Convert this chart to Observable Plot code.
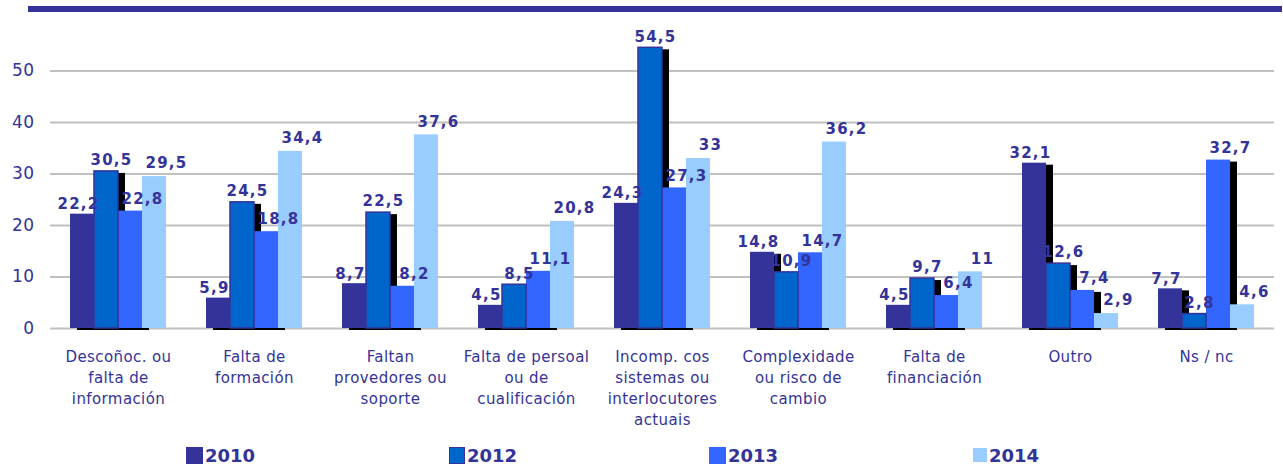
<!DOCTYPE html>
<html><head><meta charset="utf-8">
<script src="https://cdn.jsdelivr.net/npm/d3@7"></script>
<script src="https://cdn.jsdelivr.net/npm/@observablehq/plot@0.6"></script>
<style>
body{margin:0;background:#fff;font-family:"DejaVu Sans",Verdana,sans-serif;}
#wrap{position:relative;width:1283px;height:466px;overflow:hidden;background:#fff}
#topline{position:absolute;left:28px;top:6px;width:1254px;height:6px;background:#333399}
#chart{position:absolute;left:0;top:0}
.leg{position:absolute;display:flex;align-items:center;font-weight:bold;font-size:18px;color:#333399;height:18px;top:446px}
.sw{display:inline-block;box-sizing:border-box;margin-right:2px}
</style></head>
<body><div id="wrap"><div id="chart"></div><div id="topline"></div><div id="legend"></div></div>
<script>
const categories = [
  "Descoñoc. ou\nfalta de\ninformación",
  "Falta de\nformación",
  "Faltan\nprovedores ou\nsoporte",
  "Falta de persoal\nou de\ncualificación",
  "Incomp. cos\nsistemas ou\ninterlocutores\nactuais",
  "Complexidade\nou risco de\ncambio",
  "Falta de\nfinanciación",
  "Outro",
  "Ns / nc"
];
const years = ["2010", "2012", "2013", "2014"];
const v2010 = [22.2, 5.9, 8.7, 4.5, 24.3, 14.8, 4.5, 32.1, 7.7];
const v2012 = [30.5, 24.5, 22.5, 8.5, 54.5, 10.9, 9.7, 12.6, 2.8];
const v2013 = [22.8, 18.8, 8.2, 11.1, 27.3, 14.7, 6.4, 7.4, 32.7];
const v2014 = [29.5, 34.4, 37.6, 20.8, 33, 36.2, 11, 2.9, 4.6];
const yTicks = [0, 10, 20, 30, 40, 50];
const colors = ["#333399", "#0066CC", "#3366FF", "#99CCFF"];

const series = [v2010, v2012, v2013, v2014];
const data = [];
categories.forEach((c, i) => years.forEach((y, j) => data.push({cat: c, year: y, value: series[j][i]})));

const fmt = v => String(v).replace(".", ",");
const ink = "#333399";
// per-series label offsets (style)
const labelDx = {"2010": -4, "2012": 5, "2013": 12, "2014": 12};
const labelDy = {"2010": -10, "2012": -11, "2013": -12, "2014": -13};

const chart = Plot.plot({
  width: 1283,
  height: 436,
  marginLeft: 47,
  marginRight: 6,
  marginTop: 19,
  marginBottom: 108,
  style: {fontFamily: "'DejaVu Sans', Verdana, sans-serif", letterSpacing: "0.4px", background: "transparent"},
  fx: {domain: categories, padding: 0, label: null},
  x: {domain: years, padding: 0, inset: 18.8, axis: null},
  y: {domain: [0, 60], axis: null},
  color: {domain: years, range: colors},
  marks: [
    Plot.ruleY(yTicks, {y: d => d, stroke: "#c0c0c0", strokeWidth: 2}),
    Plot.axisY({ticks: yTicks, tickSize: 0, tickPadding: 16, fontSize: 17, fill: ink, label: null}),
    Plot.axisFx({anchor: "bottom", tickSize: 0, tickPadding: 19, fontSize: 15, lineHeight: 1.4, fill: ink, label: null}),
    Plot.barY(data.filter(d => d.year !== "2014"), {fx: "cat", x: "year", y: "value", fill: "black", dx: 7, dy: 2}),
    Plot.barY(data, {fx: "cat", x: "year", y: "value", fill: "year"}),
    Plot.barY(data.filter(d => d.year === "2012"), {fx: "cat", x: "year", y: "value", fill: "none", stroke: ink, strokeWidth: 1.5}),
    ...years.map(yr => Plot.text(data.filter(d => d.year === yr), {
      fx: "cat", x: "year", y: "value", text: d => fmt(d.value),
      fill: ink, fontWeight: "bold", fontSize: 15, dx: labelDx[yr], dy: labelDy[yr]
    }))
  ]
});
chart.querySelectorAll('g[aria-label="text"]').forEach(g => g.style.letterSpacing = "1.3px");
document.getElementById("chart").appendChild(chart);

// legend
const legPos = [186, 449, 709, 973];
const legSize = [[17, 17], [16, 17], [17, 17], [14, 14]];
const leg = document.getElementById("legend");
years.forEach((y, i) => {
  const item = document.createElement("div");
  item.className = "leg";
  item.style.left = legPos[i] + "px";
  const sw = document.createElement("span");
  sw.className = "sw";
  sw.style.width = legSize[i][0] + "px";
  sw.style.height = legSize[i][1] + "px";
  sw.style.background = colors[i];
  if (y === "2012") sw.style.border = "1.5px solid " + ink;
  item.appendChild(sw);
  const t = document.createElement("span");
  t.textContent = y;
  item.appendChild(t);
  leg.appendChild(item);
});
</script>
</body></html>
